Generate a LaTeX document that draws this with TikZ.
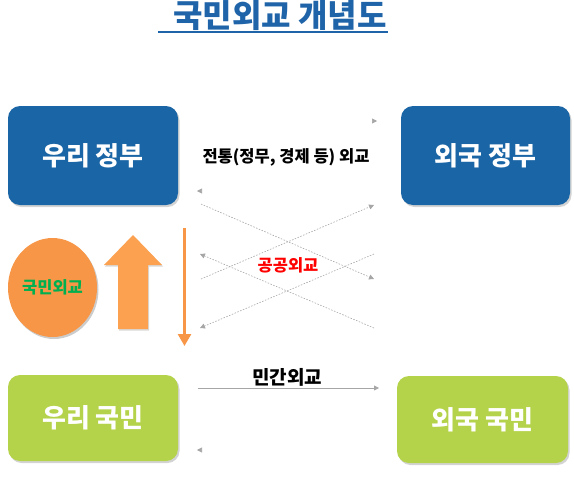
\documentclass[tikz,border=0pt]{standalone}
\usepackage{fontspec}
\setmainfont{Noto Sans CJK KR}[BoldFont={Noto Sans CJK KR Black}]
\usetikzlibrary{arrows.meta,shadows,shapes.geometric}
\definecolor{govblue}{HTML}{1A65A5}
\definecolor{titleblue}{HTML}{1F64A8}
\definecolor{pplgreen}{HTML}{B4D34A}
\definecolor{circorange}{HTML}{F79646}
\definecolor{blockorange}{HTML}{FBA150}
\definecolor{linegray}{HTML}{A6A6A6}
\definecolor{txtgreen}{HTML}{00B050}
\tikzset{
  box/.style={rounded corners=12pt, inner sep=0pt, text=white,
    font=\bfseries\fontsize{26}{28}\selectfont,
    drop shadow={shadow xshift=1.5pt, shadow yshift=-2pt, opacity=0.35}},
  govbox/.style={box, fill=govblue},
  pplbox/.style={box, fill=pplgreen},
  tip/.style={-{Triangle[length=5pt,width=5pt]}},
  crossline/.style={tip, draw=linegray, line width=0.6pt, dash pattern=on 1.5pt off 1.5pt},
  ghostline/.style={-{Triangle[length=5pt,width=5pt,color=linegray]}, draw=white, line width=0.6pt},
  lbl/.style={font=\bfseries\fontsize{16.5}{18}\selectfont, inner sep=0pt},
}
\begin{document}
\begin{tikzpicture}[x=1pt,y=-1pt]
\useasboundingbox (0,0) rectangle (574,483);
% title
\node[font=\bfseries\fontsize{32}{34}\selectfont, text=titleblue, inner sep=0pt] (title) at (280,16) {국민외교 개념도};
\coordinate (ul1) at (158,32); \coordinate (ul2) at (388,32);
\draw[titleblue, line width=2pt] (ul1) -- (ul2);
% boxes
\node[govbox, minimum width=170pt, minimum height=99pt] (ug) at (93,155.5) {우리 정부};
\node[govbox, minimum width=169pt, minimum height=99pt] (fg) at (485.5,155.5) {외국 정부};
\node[pplbox, minimum width=170pt, minimum height=86pt] (up) at (93,418) {우리 국민};
\node[pplbox, minimum width=171pt, minimum height=87pt] (fp) at (482.5,419.5) {외국 국민};
% traditional diplomacy
\node[lbl] (trad) at (286,157) {전통(정무, 경제 등) 외교};
\coordinate (t1a) at (199,121); \coordinate (t1b) at (377,121);
\draw[ghostline] (t1a) -- (t1b);
\coordinate (t2a) at (374,191); \coordinate (t2b) at (197,191);
\draw[ghostline] (t2a) -- (t2b);
% public diplomacy crossing lines
\coordinate (c1a) at (201,204); \coordinate (c1b) at (374,279);
\draw[crossline] (c1a) -- (c1b);
\coordinate (c2a) at (201,279); \coordinate (c2b) at (374,205);
\draw[crossline] (c2a) -- (c2b);
\coordinate (c3a) at (374,254); \coordinate (c3b) at (200,328);
\draw[crossline] (c3a) -- (c3b);
\coordinate (c4a) at (374,328); \coordinate (c4b) at (200,254);
\draw[crossline] (c4a) -- (c4b);
\node[lbl, text=red] (pub) at (288,265) {공공외교};
% civilian diplomacy
\node[lbl, font=\bfseries\fontsize{19}{21}\selectfont] (civ) at (287,377) {민간외교};
\coordinate (m1a) at (198,388); \coordinate (m1b) at (379,388);
\draw[tip, draw=linegray, line width=0.8pt] (m1a) -- (m1b);
\coordinate (m2a) at (380,450); \coordinate (m2b) at (197,450);
\draw[ghostline] (m2a) -- (m2b);
% circle
\node[ellipse, fill=circorange, minimum width=89pt, minimum height=99pt, inner sep=0pt,
  drop shadow={shadow xshift=1.5pt, shadow yshift=-2pt, opacity=0.4},
  text=txtgreen, font=\bfseries\fontsize{16.5}{18}\selectfont] (circ) at (52.5,287.5) {국민외교};
% block up arrow
\fill[blockorange, drop shadow={shadow xshift=1pt, shadow yshift=-1.5pt, opacity=0.3}]
  (118,329) -- (118,265) -- (104,265) -- (133,235) -- (162,265) -- (148,265) -- (148,329) -- cycle;
% thin down arrow
\coordinate (d1) at (184.5,228); \coordinate (d2) at (184.5,346);
\draw[circorange, line width=2.5pt, -{Triangle[length=12pt,width=13pt]}] (d1) -- (d2);
\end{tikzpicture}
\end{document}
